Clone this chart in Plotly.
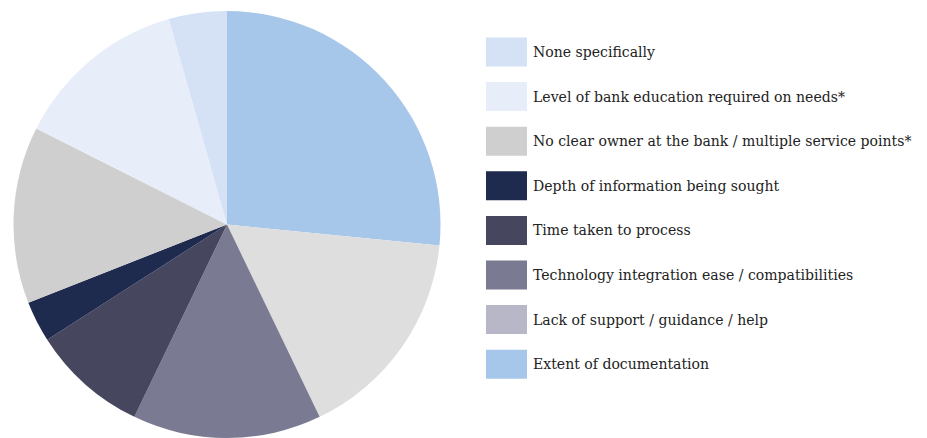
import plotly.graph_objects as go

# Survey answers, listed in legend order
labels = [
    "None specifically",
    "Level of bank education required on needs*",
    "No clear owner at the bank / multiple service points*",
    "Depth of information being sought",
    "Time taken to process",
    "Technology integration ease / compatibilities",
    "Lack of support / guidance / help",
    "Extent of documentation",
]
shares = [4.4, 13.2, 13.4, 3.1, 8.8, 14.3, 16.3, 26.6]
slice_colors = ["#d5e2f5", "#e8eef9", "#cfcfcf", "#1e2a4e",
                "#46465f", "#7b7a93", "#dedede", "#a7c7ea"]
legend_colors = ["#d5e2f5", "#e8eef9", "#cfcfcf", "#1e2a4e",
                 "#46465f", "#7b7a93", "#b8b7c8", "#a7c7ea"]

W, H = 927, 438
TOP = 11

# Pie runs clockwise from 12 o'clock, starting with the last answer
fig = go.Figure(go.Pie(
    labels=labels[::-1],
    values=shares[::-1],
    sort=False,
    direction="clockwise",
    rotation=0,
    textinfo="none",
    hoverinfo="label+percent",
    marker=dict(colors=slice_colors[::-1], line=dict(width=0)),
    domain=dict(x=[13 / W, 441 / W], y=[0, 1]),
    showlegend=False,
))


def py(pix):
    # pixel row -> paper y
    return (H - pix) / (H - TOP)


# Hand-built legend with wide swatches
row0, step = 52, 44.6
sw_w, sw_h = 41, 29
for i, (lab, col) in enumerate(zip(labels, legend_colors)):
    cy = row0 + i * step
    fig.add_shape(
        type="rect", xref="paper", yref="paper",
        x0=486 / W, x1=(486 + sw_w) / W,
        y0=py(cy + sw_h / 2), y1=py(cy - sw_h / 2),
        fillcolor=col, line=dict(width=0),
    )
    fig.add_annotation(
        xref="paper", yref="paper", x=530.5 / W, y=py(cy),
        xanchor="left", yanchor="middle", showarrow=False,
        text=lab, font=dict(family="DejaVu Serif", size=14.05, color="#222222"),
    )

fig.update_layout(
    width=W, height=H,
    margin=dict(l=0, r=0, t=TOP, b=0),
    paper_bgcolor="white",
    plot_bgcolor="white",
)

fig.write_html("out.html")
